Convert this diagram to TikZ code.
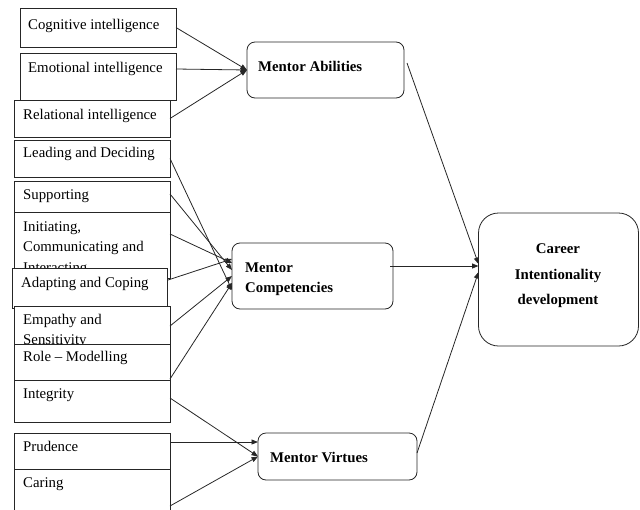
\documentclass[tikz,border=0pt]{standalone}
\usepackage{fontspec}
\setmainfont{Liberation Serif}
\usetikzlibrary{arrows.meta}
\begin{document}
\begin{tikzpicture}[x=1pt,y=-1pt,
  box/.style={draw=black!85, line width=0.8pt, fill=white, inner sep=0pt, outer sep=0pt},
  rbox/.style={box, rounded corners=8pt},
  lbl/.style={anchor=base west, inner sep=0pt, font=\fontsize{14.8}{18}\selectfont},
  blbl/.style={lbl, font=\fontsize{14.8}{18}\selectfont\bfseries},
  cbl/.style={blbl, anchor=base},
  conn/.style={draw=black!85, line width=0.8pt, -{Triangle[length=6.5pt,width=5pt]}},
]
\useasboundingbox (0,0) rectangle (640,509);

% left boxes
\node[box, minimum width=156pt, minimum height=39pt] (cog) at (98,27.5) {};
\node[lbl] (tcog) at (28,29) {Cognitive intelligence};
\node[box, minimum width=156pt, minimum height=47pt] (emo) at (98,76.5) {};
\node[lbl] (temo) at (28,72) {Emotional intelligence};
\node[box, minimum width=156pt, minimum height=37pt] (rel) at (92,118.5) {};
\node[lbl] (trel) at (23,119) {Relational intelligence};
\node[box, minimum width=156pt, minimum height=37pt] (ld) at (92,158.5) {};
\node[lbl] (tld) at (23,157) {Leading and Deciding};
\node[box, minimum width=156pt, minimum height=31pt] (sup) at (92,196.5) {};
\node[lbl] (tsup) at (23,199) {Supporting};
\node[box, minimum width=156pt, minimum height=66pt] (ini) at (92,245) {};
\node[lbl] (tini1) at (23,231.5) {Initiating,};
\node[lbl] (tini2) at (23,251.5) {Communicating and};
\node[lbl] (tini3) at (23,272) {Interacting};
\node[box, minimum width=155pt, minimum height=40pt] (ad) at (89.5,288) {};
\node[lbl] (tad) at (21,287) {Adapting and Coping};
\node[box, minimum width=156pt, minimum height=38pt] (emp) at (92,325) {};
\node[lbl] (temp1) at (23,324) {Empathy and};
\node[lbl] (temp2) at (23,344.5) {Sensitivity};
\node[box, minimum width=156pt, minimum height=36pt] (role) at (92,362) {};
\node[lbl] (trole) at (23,361) {Role -- Modelling};
\node[box, minimum width=156pt, minimum height=42pt] (int) at (92,401) {};
\node[lbl] (tint) at (23,398) {Integrity};
\node[box, minimum width=156pt, minimum height=36pt] (pru) at (92,451) {};
\node[lbl] (tpru) at (23,451) {Prudence};
\node[box, minimum width=156pt, minimum height=46pt] (car) at (92,492) {};
\node[lbl] (tcar) at (23,487) {Caring};

% middle boxes
\node[rbox, minimum width=157pt, minimum height=56pt] (ma) at (325.5,70) {};
\node[blbl] (tma) at (258,71) {Mentor Abilities};
\node[rbox, minimum width=161pt, minimum height=66pt] (mc) at (312.5,276) {};
\node[blbl] (tmc1) at (245,272) {Mentor};
\node[blbl] (tmc2) at (245,292) {Competencies};
\node[rbox, minimum width=159pt, minimum height=47pt] (mv) at (337.5,456.5) {};
\node[blbl] (tmv) at (270,462) {Mentor Virtues};

% outcome
\node[box, rounded corners=20pt, minimum width=160pt, minimum height=133pt] (cd) at (558.5,279.5) {};
\node[cbl] (tcd1) at (558,253) {Career};
\node[cbl] (tcd2) at (558,279) {Intentionality};
\node[cbl] (tcd3) at (558,304) {development};

% connectors to Mentor Abilities
\draw[conn] (cog.east) -- (ma.west);
\draw[conn] ([yshift=7.5pt]emo.east) -- (ma.west);
\draw[conn] (rel.east) -- (ma.west);

% connectors to Mentor Competencies
\draw[conn] (ld.east) -- ([yshift=-14pt]mc.west);
\draw[conn] ([yshift=2.5pt]sup.east) -- ([yshift=6pt]mc.west);
\draw[conn] ([yshift=11pt]ini.east) -- ([yshift=13pt]mc.west);
\draw[conn] ([xshift=1pt,yshift=8pt]ad.east) -- ([yshift=17pt]mc.west);
\draw[conn] ([yshift=-1pt]emp.east) -- (mc.west);
\draw[conn] ([yshift=-17pt]role.east) -- ([yshift=-7pt]mc.west);

% connectors to Mentor Virtues
\draw[conn] ([yshift=3pt]int.east) -- (mv.west);
\draw[conn] ([yshift=9pt]pru.east) -- ([yshift=14.5pt]mv.west);
\draw[conn] ([yshift=-14pt]car.east) -- (mv.west);

% connectors to outcome
\draw[conn] ([xshift=3pt,yshift=7pt]ma.east) -- ([yshift=15.5pt]cd.west);
\draw[conn] ([xshift=-3pt,yshift=10pt]mc.east) -- ([yshift=13.5pt]cd.west);
\draw[conn] ([yshift=3.5pt]mv.east) -- ([yshift=7.5pt]cd.west);
\end{tikzpicture}
\end{document}
